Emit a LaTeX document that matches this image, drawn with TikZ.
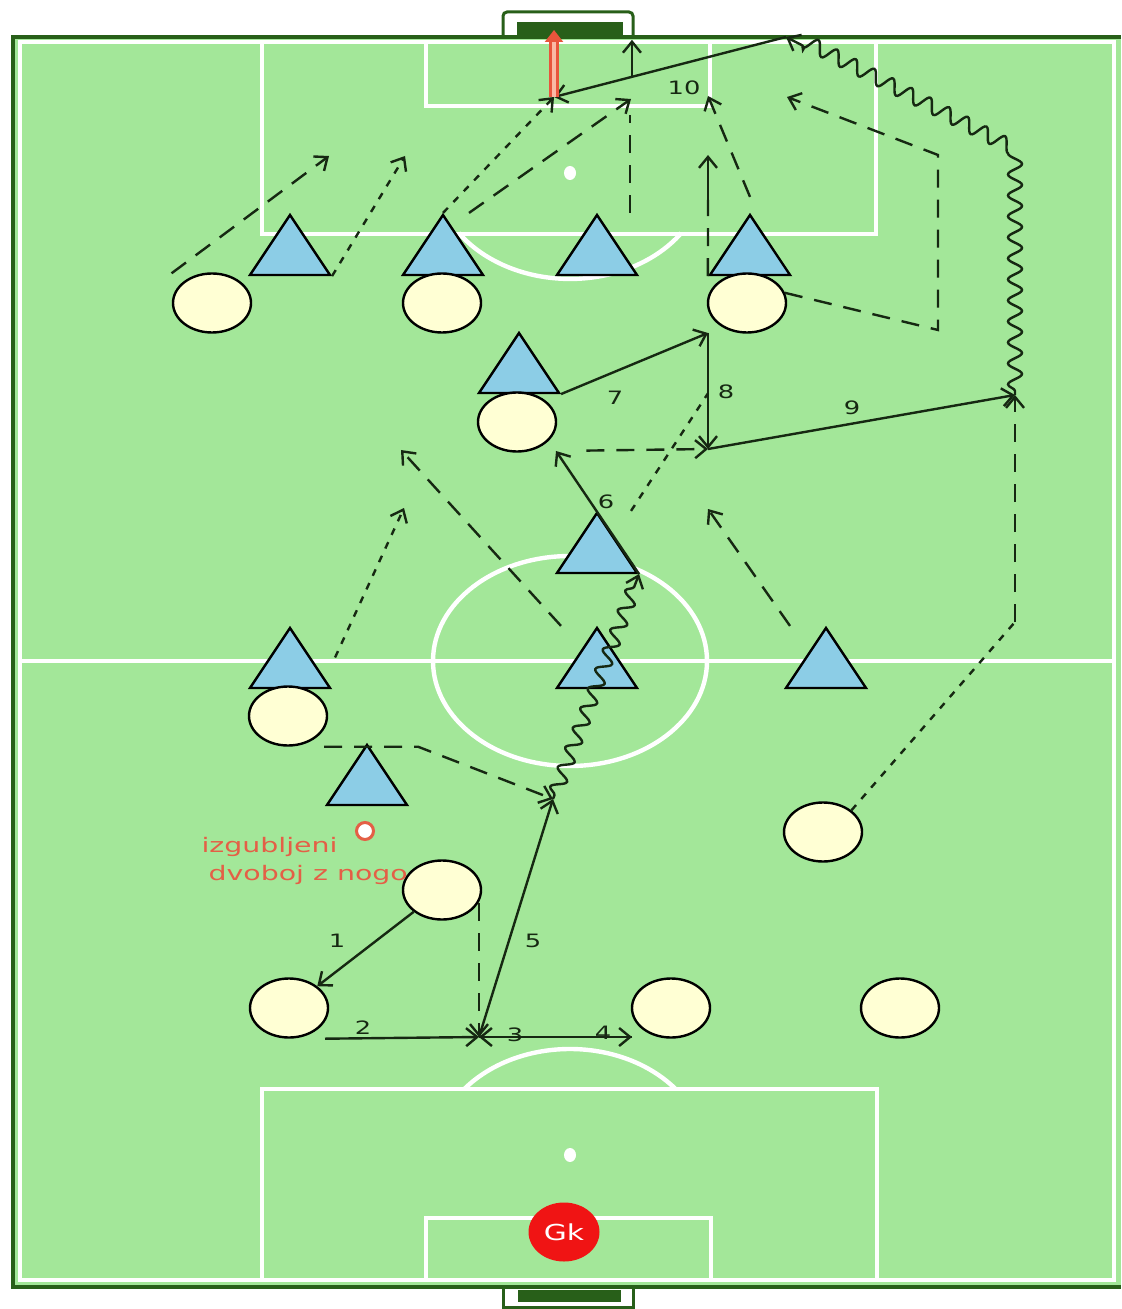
\documentclass[tikz,border=0pt]{standalone}
\usepackage{fontspec}
\setmainfont{DejaVu Sans}
\usetikzlibrary{shapes.geometric,arrows.meta,decorations.pathmorphing,calc}
\definecolor{grass}{RGB}{163,231,153}
\definecolor{darkline}{RGB}{40,95,25}
\definecolor{triblue}{RGB}{140,205,230}
\definecolor{cream}{RGB}{255,255,212}
\definecolor{ink}{RGB}{22,40,18}
\definecolor{lostred}{RGB}{228,95,70}
\definecolor{gkred}{RGB}{240,20,20}
\definecolor{shotred}{RGB}{232,85,60}
\definecolor{shotpink}{RGB}{250,185,165}
\tikzset{
  chalk/.style={draw=white, line width=2.2pt},
  rim/.style={draw=darkline, line width=2pt},
  tri/.style={regular polygon, regular polygon sides=3, minimum size=46.2pt, inner sep=0pt,
    yscale=0.866, transform shape, draw=black, line width=1.2pt, fill=triblue},
  disc/.style={ellipse, minimum width=39pt, minimum height=29.5pt, inner sep=0pt,
    draw=black, line width=1.2pt, fill=cream},
  pass/.style={draw=ink, line width=1.2pt, ->},
  run/.style={pass, dash pattern=on 9pt off 6pt},
  jog/.style={pass, dash pattern=on 3.5pt off 4pt},
  dribble/.style={pass, decorate, decoration={snake, amplitude=3.5pt, segment length=10.5pt, pre length=2pt, post length=6pt}},
  shot/.style={draw=shotred, line width=1.2pt, double=shotpink, double distance=2.4pt, -{Triangle[length=6pt,width=9pt]}},
  num/.style={text=ink, font=\fontsize{9.2}{11}\selectfont, inner sep=0pt, xscale=1.4, transform shape},
  lost/.style={text=lostred, font=\fontsize{10}{12}\selectfont, inner sep=0pt, xscale=1.42, transform shape, anchor=west},
  ball/.style={circle, minimum size=8.5pt, inner sep=0pt, draw=lostred, line width=1.5pt, fill=white},
  gk/.style={ellipse, minimum width=35.5pt, minimum height=29.5pt, inner sep=0pt, fill=gkred, text=white,
    font=\fontsize{11}{12}\selectfont}
}
\begin{document}
\begin{tikzpicture}[x=0.5pt, y=-0.5pt, >={Straight Barb[length=5.5pt,width=9pt]}]
\useasboundingbox (0,0) rectangle (1121,1309);
% pitch
\fill[grass] (13,37) rectangle (1121,1287);
\draw[chalk] (20,42) rectangle (1114,1280);
\draw[chalk] (20,661) -- (1114,661);
\draw[chalk] (570,661) ellipse [x radius=137, y radius=105];
\draw[chalk] (262,42) -- (262,234) -- (876,234) -- (876,42);
\draw[chalk] (426,42) -- (426,106) -- (710,106) -- (710,42);
\draw[chalk] (681.3,233) arc[start angle=34.5, end angle=145.5, x radius=135, y radius=106];
\fill[white] (570,173) ellipse [x radius=6, y radius=7];
\draw[chalk] (262,1280) -- (262,1089) -- (877,1089) -- (877,1280);
\draw[chalk] (426,1280) -- (426,1218) -- (711,1218) -- (711,1280);
\draw[chalk] (464.3,1089) arc[start angle=-141.5, end angle=-38.5, x radius=135, y radius=106];
\fill[white] (570,1155) ellipse [x radius=6, y radius=7];
% goals
\draw[rim, line width=1.5pt, fill=white, rounded corners=2pt] (503,37) -- (503,12) -- (633,12) -- (633,37);
\fill[darkline] (517,22) rectangle (623,37);
\draw[rim, line width=1.5pt, fill=white] (503,1287) -- (503,1307) -- (633,1307) -- (633,1287);
\fill[darkline] (518,1290) rectangle (621,1302);
\draw[rim] (1121,37) -- (13,37) -- (13,1287) -- (1121,1287);

% players
\node[tri] (t1) at (290,255) {};
\node[tri] (t2) at (443,255) {};
\node[tri] (t3) at (597,255) {};
\node[tri] (t4) at (750,255) {};
\node[tri] (t5) at (519,373) {};
\node[tri] (t6) at (597,553) {};
\node[tri] (t7) at (290,668) {};
\node[tri] (t8) at (597,668) {};
\node[tri] (t9) at (826,668) {};
\node[tri] (t10) at (367,785) {};
\node[disc] (o1) at (212,303) {};
\node[disc] (o2) at (442,303) {};
\node[disc] (o3) at (747,303) {};
\node[disc] (o4) at (517,422) {};
\node[disc] (o5) at (288,716) {};
\node[disc] (o6) at (442,890) {};
\node[disc] (o7) at (823,832) {};
\node[disc] (o8) at (289,1008) {};
\node[disc] (o9) at (671,1008) {};
\node[disc] (o10) at (900,1008) {};
\node[gk] (gk) at (564,1232) {\scalebox{1.35}[1]{Gk}};

% free ends of the moves
\coordinate (e1) at (329,156);
\coordinate (e2) at (405,156);
\coordinate (g10) at (554,97);
\coordinate (e3) at (631,99);
\coordinate (top) at (786,37);
\coordinate (e4) at (708,96);
\coordinate (e5a) at (708,200);
\coordinate (e5) at (708,155);
\coordinate (e6) at (787,97);
\coordinate (bend) at (1015,155);
\coordinate (p9) at (1015,395);
\coordinate (p8) at (708,333);
\coordinate (p8b) at (708,449);
\coordinate (p6) at (556,451);
\coordinate (e7) at (401,450);
\coordinate (e8) at (404,508);
\coordinate (e9) at (708,509);
\coordinate (k7) at (1015,622);
\coordinate (p5) at (553,799);
\coordinate (p2) at (479,1037);
\coordinate (p4) at (632,1037);
\coordinate (hit) at (554,30);

% attack in the final third
\draw[run] ([shift={(-6pt,4pt)}]o1.north west) -- (e1);
\draw[jog] (t1.corner 3) -- (e2);
\draw[jog] (t2.corner 1) -- (g10);
\draw[run] ([xshift=13pt]t2.corner 1) -- (e3);
\draw[run,-] ([xshift=16.5pt]t3.corner 1) -- ++(0,-98);
\draw[pass] ($(top)!.664!(g10)$) -- ++(0,-37);
\draw[run,-] (t4.corner 2) -- (e5a);
\draw[pass] (e5a) -- (e5);
\draw[run] ([yshift=8pt]t4.corner 1) -- (e4);
\draw[run] (o3.15) -- (938,330) -- (938,155) -- (e6);
\draw[dribble] (p9) -- (bend) -- (top);
\draw[pass] (top) -- (g10);
\draw[shot] (g10) -- (hit);

% build-up through midfield
\draw[pass] (t5.corner 3) -- (p8);
\draw[pass] (p8) -- (p8b);
\draw[pass] (p8b) -- (p9);
\draw[jog,-] ([xshift=17pt]t6.corner 1) -- ($(p8)!.52!(p8b)$);
\draw[run] ($(p6)!.2!(p8b)$) -- (p8b);
\draw[pass] (t6.corner 3) -- (p6);
\draw[dribble] (p5) -- (t6.corner 3);
\draw[run] ([xshift=-18pt]t8.corner 1) -- (e7);
\draw[jog] ([xshift=12pt]t7.side 3) -- (e8);
\draw[run] ([xshift=-18pt]t9.corner 1) -- (e9);
\draw[jog,-] (o7.north east) -- (k7);
\draw[run] (k7) -- (p9);

% own half
\draw[run] ([xshift=18pt]o5.south) -- ++(94,0) -- (p5);
\draw[pass] (p2) -- (p5);
\draw[run] (p2 |- o6.-20) -- (p2);
\draw[pass] (o6) -- (o8);
\draw[pass] ([xshift=18pt]o8.south) -- (p2);
\draw[pass] (p4) -- (p2);
\draw[pass] (p2) -- (p4);

% numbers of the passes
\node[num] (n1) at (337,941) {1};
\node[num] (n2) at (363,1028) {2};
\node[num] (n3) at (515,1035) {3};
\node[num] (n4) at (603,1033) {4};
\node[num] (n5) at (533,941) {5};
\node[num] (n6) at (606,502) {6};
\node[num] (n7) at (615,398) {7};
\node[num] (n8) at (726,392) {8};
\node[num] (n9) at (852,408) {9};
\node[num] (n10) at (684,88) {10};

% lost duel
\node[ball] (ball) at (365,831) {};
\node[lost] (lost1) at (201,847) {izgubljeni};
\node[lost] (lost2) at (208,875) {dvoboj z nogo};
\end{tikzpicture}
\end{document}
